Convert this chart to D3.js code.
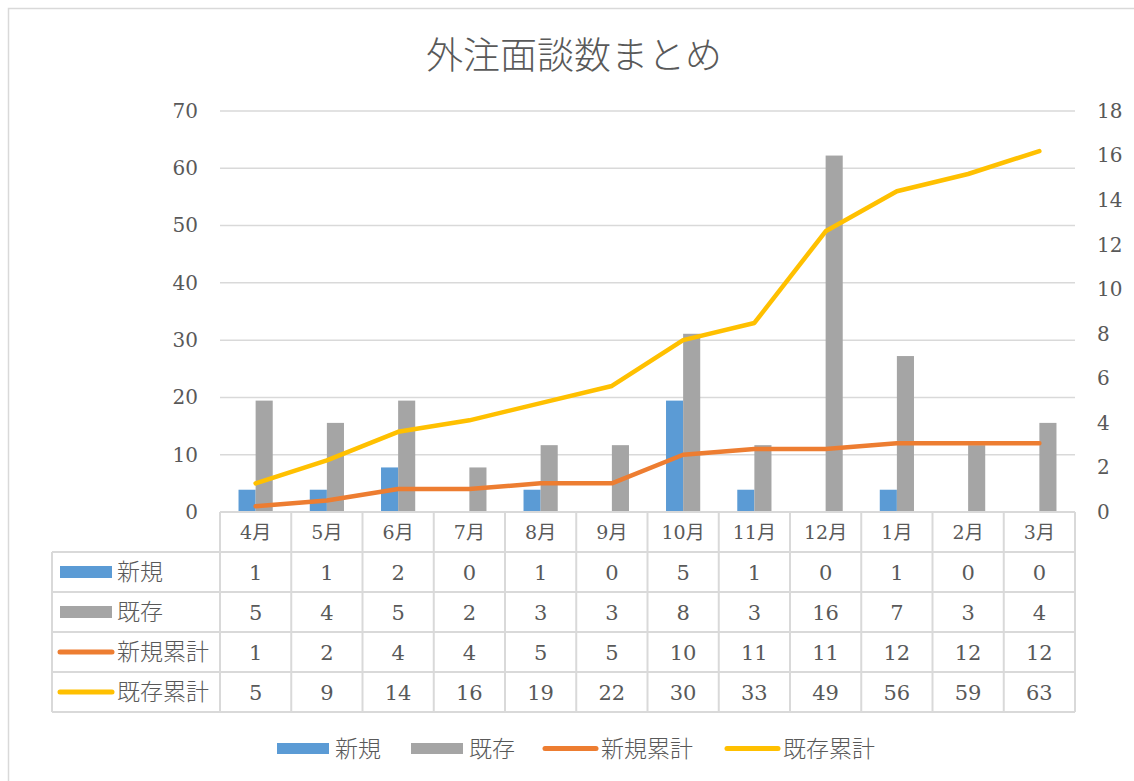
<!DOCTYPE html>
<html>
<head>
<meta charset="utf-8">
<script src="https://d3js.org/d3.v7.min.js"></script>
<style>
	body { margin: 0; background: #fff; }
	svg { display: block; background: #fff; }
	.num { font-family: "DejaVu Serif", "Noto Sans CJK JP", serif; fill: #595959; }
	.jp { font-family: "Noto Sans CJK JP", sans-serif; fill: #595959; }
</style>
</head>
<body>
<svg id="chart" width="1134" height="781"></svg>
<script>
// data
var months = ["4月", "5月", "6月", "7月", "8月", "9月", "10月", "11月", "12月", "1月", "2月", "3月"];
var shinki = [1, 1, 2, 0, 1, 0, 5, 1, 0, 1, 0, 0];
var kizon = [5, 4, 5, 2, 3, 3, 8, 3, 16, 7, 3, 4];
var shinkiCum = [1, 2, 4, 4, 5, 5, 10, 11, 11, 12, 12, 12];
var kizonCum = [5, 9, 14, 16, 19, 22, 30, 33, 49, 56, 59, 63];
var leftTicks = [0, 10, 20, 30, 40, 50, 60, 70];
var rightTicks = [0, 2, 4, 6, 8, 10, 12, 14, 16, 18];

var series = [
	{name: "新規", values: shinki, color: "#5B9BD5", type: "bar"},
	{name: "既存", values: kizon, color: "#A5A5A5", type: "bar"},
	{name: "新規累計", values: shinkiCum, color: "#ED7D31", type: "line"},
	{name: "既存累計", values: kizonCum, color: "#FFC000", type: "line"}
];

var svg = d3.select("#chart");
var plotLeft = 220, plotRight = 1075, plotTop = 111, plotBottom = 512;
var rowH = 40, tableLeft = 52;

// chart border
svg.append("rect")
	.attr("x", 8.5).attr("y", 8.5)
	.attr("width", 1140).attr("height", 800)
	.attr("fill", "none").attr("stroke", "#D9D9D9").attr("stroke-width", 1.5);

// title
svg.append("text").attr("class", "jp")
	.attr("x", 574).attr("y", 69)
	.attr("text-anchor", "middle")
	.style("font-size", "37px").style("font-weight", 300)
	.text("外注面談数まとめ");

var x = d3.scaleBand().domain(months).range([plotLeft, plotRight])
	.paddingInner(0.52).paddingOuter(0.26);
var xCol = d3.scaleBand().domain(months).range([plotLeft, plotRight]);
var xs = d3.scaleBand().domain(["新規", "既存"]).range([0, x.bandwidth()]);
var yL = d3.scaleLinear().domain([0, 70]).range([plotBottom, plotTop]);
var yR = d3.scaleLinear().domain([0, 18]).range([plotBottom, plotTop]);

// gridlines
svg.append("g").selectAll("line")
	.data(leftTicks.slice(1))
	.enter().append("line")
	.attr("x1", plotLeft).attr("x2", plotRight)
	.attr("y1", function(d) { return yL(d); })
	.attr("y2", function(d) { return yL(d); })
	.attr("stroke", "#D9D9D9").attr("stroke-width", 1.5);

// axes
var axL = svg.append("g").attr("transform", "translate(" + (plotLeft - 22) + ",0)")
	.call(d3.axisLeft(yL).tickValues(leftTicks).tickSize(0).tickPadding(0));
var axR = svg.append("g").attr("transform", "translate(" + (plotRight + 22) + ",0)")
	.call(d3.axisRight(yR).tickValues(rightTicks).tickSize(0).tickPadding(0));
[axL, axR].forEach(function(ax) {
	ax.select(".domain").remove();
	ax.selectAll("text").attr("class", "num")
		.attr("fill", "#595959")
		.style("font-size", "20px");
});

// bars (right axis)
series.filter(function(s) { return s.type === "bar"; }).forEach(function(s) {
	svg.append("g").selectAll("rect")
		.data(s.values)
		.enter().append("rect")
		.attr("x", function(d, i) { return x(months[i]) + xs(s.name); })
		.attr("width", xs.bandwidth())
		.attr("y", function(d) { return yR(d); })
		.attr("height", function(d) { return plotBottom - yR(d); })
		.attr("fill", s.color);
});

// lines (left axis)
series.filter(function(s) { return s.type === "line"; }).forEach(function(s) {
	var line = d3.line()
		.x(function(d, i) { return xCol(months[i]) + xCol.bandwidth() / 2; })
		.y(function(d) { return yL(d); });
	svg.append("path")
		.datum(s.values)
		.attr("d", line)
		.attr("fill", "none")
		.attr("stroke", s.color)
		.attr("stroke-width", 4.5)
		.attr("stroke-linejoin", "round")
		.attr("stroke-linecap", "round");
});

// data table
var tbl = svg.append("g");
var gridColor = "#D9D9D9";
var tableBottom = plotBottom + rowH * (series.length + 1);

// horizontal lines
tbl.append("line").attr("x1", plotLeft).attr("x2", plotRight)
	.attr("y1", plotBottom).attr("y2", plotBottom)
	.attr("stroke", gridColor).attr("stroke-width", 2);
d3.range(series.length + 1).forEach(function(r) {
	var yy = plotBottom + rowH * (r + 1);
	tbl.append("line").attr("x1", tableLeft).attr("x2", plotRight)
		.attr("y1", yy).attr("y2", yy)
		.attr("stroke", gridColor).attr("stroke-width", 2);
});
// vertical lines
tbl.append("line").attr("x1", tableLeft).attr("x2", tableLeft)
	.attr("y1", plotBottom + rowH).attr("y2", tableBottom)
	.attr("stroke", gridColor).attr("stroke-width", 2);
tbl.selectAll(".vline")
	.data(months.concat(["end"]))
	.enter().append("line")
	.attr("x1", function(d, i) { return plotLeft + i * xCol.step(); })
	.attr("x2", function(d, i) { return plotLeft + i * xCol.step(); })
	.attr("y1", plotBottom).attr("y2", tableBottom)
	.attr("stroke", gridColor).attr("stroke-width", 2);

// month headers
tbl.selectAll(".mh")
	.data(months)
	.enter().append("text")
	.attr("class", "num")
	.attr("x", function(d) { return xCol(d) + xCol.bandwidth() / 2; })
	.attr("y", plotBottom + rowH / 2 + 7)
	.attr("text-anchor", "middle")
	.style("font-size", "19px")
	.text(function(d) { return d; });

// rows
series.forEach(function(s, r) {
	var yy = plotBottom + rowH * (r + 1);
	var cy = yy + rowH / 2;
	if (s.type === "bar") {
		tbl.append("rect").attr("x", 60).attr("y", cy - 6)
			.attr("width", 52).attr("height", 12).attr("fill", s.color);
	} else {
		tbl.append("line").attr("x1", 60).attr("x2", 112)
			.attr("y1", cy).attr("y2", cy)
			.attr("stroke", s.color).attr("stroke-width", 5)
			.attr("stroke-linecap", "round");
	}
	tbl.append("text").attr("class", "jp")
		.attr("x", 117).attr("y", cy + 8)
		.style("font-size", "23px").style("font-weight", 300)
		.text(s.name);
	tbl.selectAll(".v" + r)
		.data(s.values)
		.enter().append("text")
		.attr("class", "num")
		.attr("x", function(d, i) { return xCol(months[i]) + xCol.bandwidth() / 2; })
		.attr("y", cy + 8)
		.attr("text-anchor", "middle")
		.style("font-size", "21px")
		.text(function(d) { return d; });
});

// legend
var legendPos = [277, 411, 543, 725];
var lg = svg.append("g");
series.forEach(function(s, i) {
	var lx = legendPos[i], ly = 748.5;
	if (s.type === "bar") {
		lg.append("rect").attr("x", lx).attr("y", ly - 5.5)
			.attr("width", 52).attr("height", 11).attr("fill", s.color);
	} else {
		lg.append("line").attr("x1", lx + 2).attr("x2", lx + 53)
			.attr("y1", ly).attr("y2", ly)
			.attr("stroke", s.color).attr("stroke-width", 5)
			.attr("stroke-linecap", "round");
	}
	lg.append("text").attr("class", "jp")
		.attr("x", lx + 58).attr("y", ly + 8.5)
		.style("font-size", "23px").style("font-weight", 300)
		.text(s.name);
});
</script>
</body>
</html>
